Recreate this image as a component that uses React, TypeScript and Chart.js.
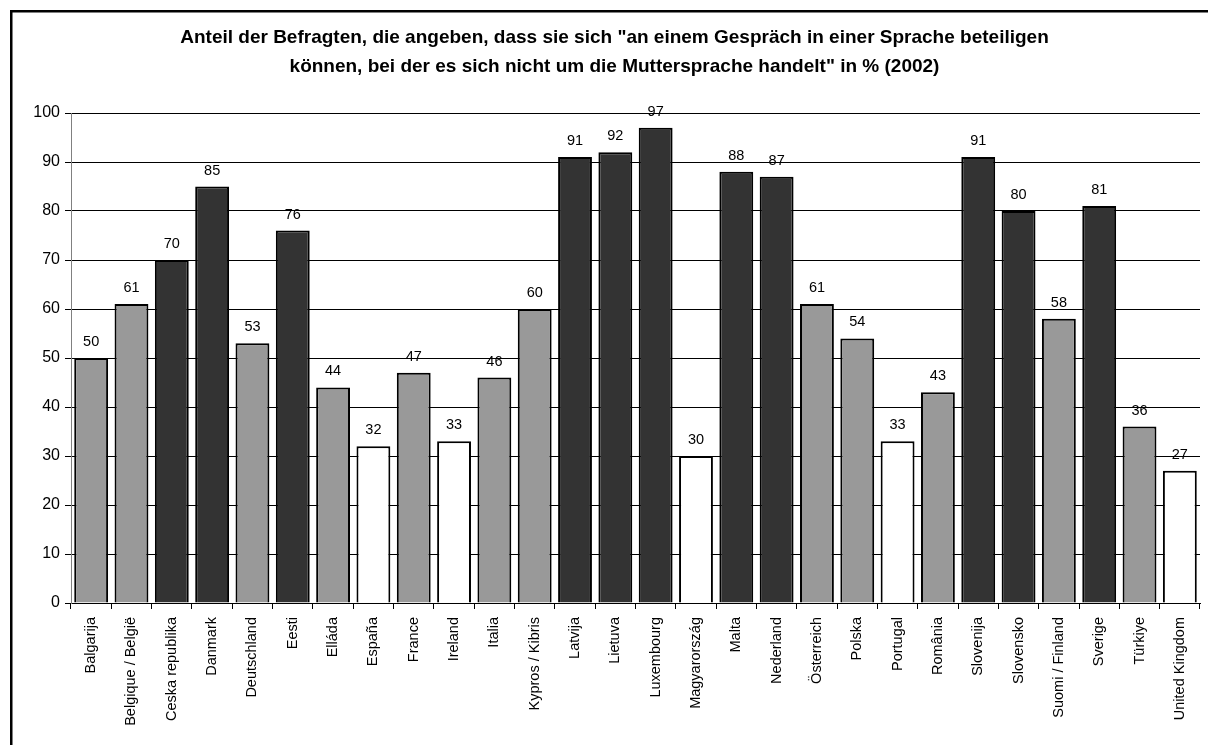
import React, { useEffect, useRef } from "react";
import { Chart, registerables } from "chart.js";

Chart.register(...registerables);

const TITLE_LINES = [
  'Anteil der Befragten, die angeben, dass sie sich "an einem Gespräch in einer Sprache beteiligen',
  'können, bei der es sich nicht um die Muttersprache handelt" in % (2002)',
];

const COUNTRIES = [
  "Balgarija", "Belgique / België", "Ceska republika", "Danmark", "Deutschland", "Eesti",
  "Elláda", "España", "France", "Ireland", "Italia", "Kypros / Kibris", "Latvija", "Lietuva",
  "Luxembourg", "Magyarország", "Malta", "Nederland", "Österreich", "Polska", "Portugal",
  "România", "Slovenija", "Slovensko", "Suomi / Finland", "Sverige", "Türkiye", "United Kingdom",
];

const SHARES = [50, 61, 70, 85, 53, 76, 44, 32, 47, 33, 46, 60, 91, 92, 97, 30, 88, 87, 61, 54, 33, 43, 91, 80, 58, 81, 36, 27];

// g = grey, d = dark, w = white
const GROUPS = ["g", "g", "d", "d", "g", "d", "g", "w", "g", "w", "g", "g", "d", "d", "d", "w", "d", "d", "g", "g", "w", "g", "d", "d", "g", "d", "g", "w"];

const Y_MIN = 0;
const Y_MAX = 100;
const Y_STEP = 10;

const GROUP_COLORS: Record<string, string> = { g: "#999999", d: "#333333", w: "#ffffff" };

const FONT = "'Liberation Sans', Arial, sans-serif";

const framePlugin = {
  id: "frame",
  afterDraw(chart: any) {
    const ctx = chart.ctx;
    ctx.save();
    ctx.strokeStyle = "#000";
    ctx.lineWidth = 2.5;
    ctx.strokeRect(11.25, 11.25, 2000, 2000);
    ctx.restore();
  },
};

const valueLabels = {
  id: "valueLabels",
  afterDatasetsDraw(chart: any) {
    const ctx = chart.ctx;
    const meta = chart.getDatasetMeta(0);
    const data = chart.data.datasets[0].data;
    ctx.save();
    ctx.fillStyle = "#000";
    ctx.font = `14.5px ${FONT}`;
    ctx.textAlign = "center";
    ctx.textBaseline = "alphabetic";
    meta.data.forEach((el: any, i: number) => {
      ctx.fillText(String(data[i]), el.x, el.y - 12);
    });
    ctx.restore();
  },
};

export default function App() {
  const ref = useRef<HTMLCanvasElement | null>(null);

  useEffect(() => {
    document.body.style.margin = "0";
    const canvas = ref.current;
    if (!canvas) return;
    const chart = new Chart(canvas, {
      type: "bar",
      data: {
        labels: COUNTRIES,
        datasets: [
          {
            data: SHARES,
            backgroundColor: GROUPS.map((g) => GROUP_COLORS[g]),
            borderColor: "#000",
            borderWidth: 2,
            barPercentage: 0.84,
            categoryPercentage: 1,
          },
        ],
      },
      options: {
        responsive: false,
        animation: false,
        devicePixelRatio: 1,
        layout: { padding: { left: 29, right: 8, top: 0, bottom: 0 } },
        plugins: {
          legend: { display: false },
          tooltip: { enabled: false },
          title: {
            display: true,
            text: TITLE_LINES,
            color: "#000",
            font: { family: FONT, size: 19, weight: "bold", lineHeight: 29 / 19 },
            padding: { top: 23, bottom: 32 },
          },
        },
        scales: {
          x: {
            grid: {
              display: true,
              drawOnChartArea: false,
              drawTicks: true,
              tickLength: 6,
              color: "#000",
              offset: true,
            },
            border: { display: true, color: "#000", width: 1 },
            ticks: {
              autoSkip: false,
              minRotation: 90,
              maxRotation: 90,
              padding: 8,
              color: "#000",
              font: { family: FONT, size: 14.5 },
            },
            afterFit(scale: any) {
              scale.height = 142;
            },
          },
          y: {
            min: Y_MIN,
            max: Y_MAX,
            grid: { color: "#000", lineWidth: 1, drawTicks: true, tickLength: 6 },
            border: { display: true, color: "#808080", width: 1 },
            ticks: {
              stepSize: Y_STEP,
              padding: 5,
              color: "#000",
              font: { family: FONT, size: 16 },
            },
            afterFit(scale: any) {
              scale.width = 42;
            },
          },
        },
      },
      plugins: [valueLabels, framePlugin],
    });
    return () => chart.destroy();
  }, []);

  return (
    <div style={{ position: "fixed", left: 0, top: 0, width: 1208, height: 745, background: "#fff" }}>
      <canvas ref={ref} width={1208} height={745} style={{ display: "block" }} />
    </div>
  );
}
